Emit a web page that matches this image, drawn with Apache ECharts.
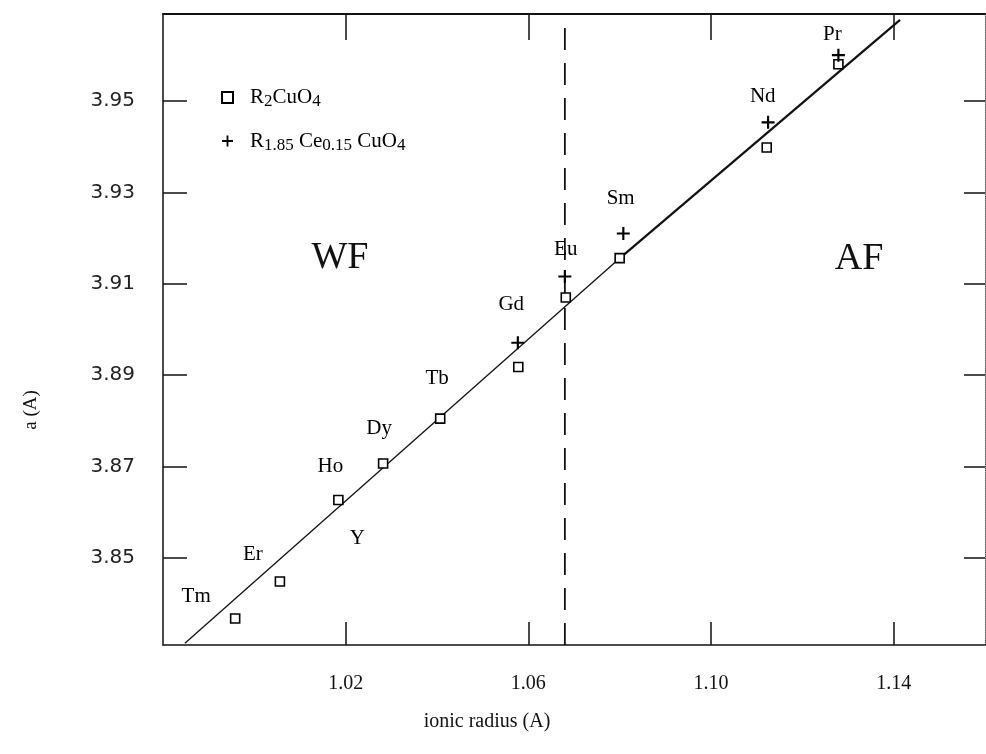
<!DOCTYPE html>
<html><head><meta charset="utf-8">
<script src="https://cdn.jsdelivr.net/npm/echarts@6/dist/echarts.min.js"></script>
<style>html,body{margin:0;padding:0;background:#fff}#c{width:986px;height:754px}</style>
</head><body><div id="c"></div>
<script>
// ---- data ----
const elements   = ['Tm','Er','Ho','Dy','Tb','Gd','Eu','Sm','Nd','Pr'];
const radiusR2   = [0.9958,1.0056,1.0184,1.0282,1.0407,1.0578,1.0682,1.0800,1.1122,1.1279];
const aR2        = [3.8368,3.8449,3.8627,3.8707,3.8805,3.8918,3.9070,3.9156,3.9398,3.9580];
const ceElements = ['Gd','Eu','Sm','Nd','Pr'];
const radiusCe   = [1.0577,1.0680,1.0808,1.1125,1.1279];
const aCe        = [3.8971,3.9116,3.9210,3.9453,3.9600];
const fitX = [0.9848,1.0805,1.1414];
const fitY = [3.8314,3.9160,3.9677];
const phaseBoundaryX = 1.068;
const xTicks = [1.02,1.06,1.10,1.14];
const yTicks = [3.85,3.87,3.89,3.91,3.93,3.95];
const xRange = [0.98,1.16];
const yRange = [3.831,3.969];
const seriesNames = ['R2CuO4','R1.85Ce0.15CuO4'];
const phaseNames = ['WF','AF'];
const extraLabels = [{name:'Y', at:'Ho'}];

// ---- styling / layout ----
const SERIF = '"Liberation Serif", "DejaVu Serif", serif';
const SANS = '"DejaVu Sans", sans-serif';
const labelOffsets = {Tm:[-39,-22],Er:[-27,-27],Ho:[-8,-34],Y:[19,38],Dy:[-4,-35],Tb:[-3,-40],
  Gd:[-7,-63],Eu:[0,-48],Sm:[1,-60],Nd:[-4,-51],Pr:[-6,-30]};
const plusPath = 'path://M5,0H7V5H12V7H7V12H5V7H0V5H5Z';

const labelData = elements.map((e,i)=>({name:e, value:[radiusR2[i], aR2[i]],
  label:{offset: labelOffsets[e]}}));
extraLabels.forEach(l=>{ const i = elements.indexOf(l.at);
  labelData.push({name:l.name, value:[radiusR2[i], aR2[i]], label:{offset: labelOffsets[l.name]}}); });

const axisLine = {show:true, lineStyle:{color:'#111', width:1.5}};
const chart = echarts.init(document.getElementById('c'), null, {renderer:'canvas'});
chart.setOption({
  animation:false,
  backgroundColor:'#fff',
  grid:{left:163, right:1, top:14, bottom:109},
  legend:{
    data: seriesNames, orient:'vertical', left:216, top:82, itemGap:20,
    itemWidth:11, itemHeight:11,
    formatter: n => n===seriesNames[0] ? '{m|R}{s|2}{m|CuO}{s|4}' : '{m|R}{s|1.85}{m| Ce}{s|0.15}{m| CuO}{s|4}',
    textStyle:{ padding:[0,0,0,12],
      rich:{ m:{fontFamily:SERIF, fontSize:21, color:'#000', lineHeight:26},
             s:{fontFamily:SERIF, fontSize:17, color:'#000', lineHeight:26, verticalAlign:'bottom'} } }
  },
  xAxis:[
    {type:'value', min:xRange[0], max:xRange[1], position:'bottom', axisLine,
     splitLine:{show:false},
     axisTick:{inside:true, length:23, customValues:xTicks, lineStyle:{color:'#111', width:1.5}},
     axisLabel:{customValues:xTicks, margin:29, formatter:v=>v.toFixed(2),
       fontFamily:SERIF, fontSize:20, color:'#111'}},
    {type:'value', min:xRange[0], max:xRange[1], position:'top', axisLine:{show:true, lineStyle:{color:'#111', width:2}},
     splitLine:{show:false},
     axisTick:{inside:true, length:26, customValues:xTicks, lineStyle:{color:'#111', width:1.5}},
     axisLabel:{show:false}}
  ],
  yAxis:[
    {type:'value', min:yRange[0], max:yRange[1], position:'left', axisLine,
     splitLine:{show:false},
     axisTick:{inside:true, length:24, customValues:yTicks, lineStyle:{color:'#111', width:1.5}},
     axisLabel:{customValues:yTicks, margin:28, formatter:v=>v.toFixed(2),
       fontFamily:SANS, fontSize:20, color:'#222'}},
    {type:'value', min:yRange[0], max:yRange[1], position:'right',
     axisLine:{show:true, lineStyle:{color:'#555', width:1, type:'dotted'}},
     splitLine:{show:false},
     axisTick:{inside:true, length:21, customValues:yTicks, lineStyle:{color:'#111', width:1.5}},
     axisLabel:{show:false}}
  ],
  series:[
    {name:seriesNames[0], type:'scatter', symbol:'rect', symbolSize:9, z:4,
     itemStyle:{color:'#fff', borderColor:'#000', borderWidth:1.6, opacity:1},
     data: radiusR2.map((x,i)=>[x, aR2[i]])},
    {name:seriesNames[1], type:'scatter', symbol:plusPath, symbolSize:13, z:5,
     itemStyle:{color:'#000', opacity:1},
     data: radiusCe.map((x,i)=>[x, aCe[i]])},
    {type:'line', symbol:'none', silent:true, z:3,
     lineStyle:{color:'#111', width:1.3},
     data:[[fitX[0],fitY[0]],[fitX[1],fitY[1]]]},
    {type:'line', symbol:'none', silent:true, z:3,
     lineStyle:{color:'#111', width:2.2},
     data:[[fitX[1],fitY[1]],[fitX[2],fitY[2]]]},
    {type:'line', symbol:'none', silent:true, z:2,
     lineStyle:{color:'#111', width:1.8, type:[22,13]},
     data:[[phaseBoundaryX, yRange[0]],[phaseBoundaryX, yRange[1]]]},
    {type:'scatter', symbolSize:0, silent:true, z:6, itemStyle:{opacity:1},
     label:{show:true, position:'inside', formatter:p=>p.name, fontFamily:SERIF, fontSize:21,
       color:'#000', textBorderWidth:0, textBorderColor:'transparent'},
     data: labelData}
  ],
  graphic:[
    {type:'text', x:340, y:258, style:{text:phaseNames[0], font:'38px "Liberation Serif"', fill:'#111', textAlign:'center', textVerticalAlign:'middle'}},
    {type:'text', x:859, y:259, style:{text:phaseNames[1], font:'38px "Liberation Serif"', fill:'#111', textAlign:'center', textVerticalAlign:'middle'}},
    {type:'text', x:31, y:410, rotation:Math.PI/2, style:{text:'a (A)', font:'19px "Liberation Serif"', fill:'#111', textAlign:'center', textVerticalAlign:'middle'}},
    {type:'text', x:487, y:722, style:{text:'ionic radius (A)', font:'20px "Liberation Serif"', fill:'#111', textAlign:'center', textVerticalAlign:'middle'}}
  ]
});
</script></body></html>
